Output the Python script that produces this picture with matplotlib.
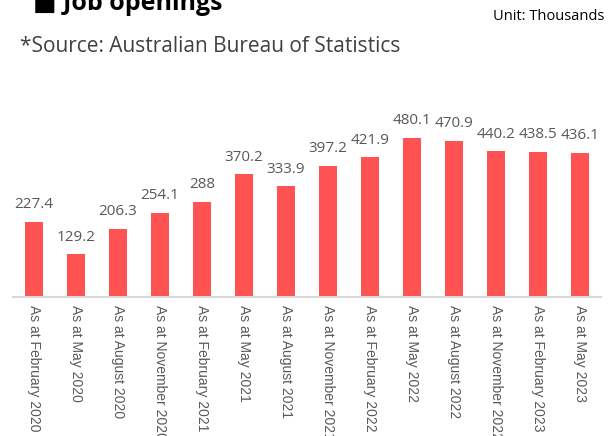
import matplotlib
matplotlib.use("Agg")
import matplotlib.pyplot as plt
import numpy as np

periods = ["February 2020", "May 2020", "August 2020", "November 2020",
           "February 2021", "May 2021", "August 2021", "November 2021",
           "February 2022", "May 2022", "August 2022", "November 2022",
           "February 2023", "May 2023"]
openings = [227.4, 129.2, 206.3, 254.1, 288, 370.2, 333.9, 397.2,
            421.9, 480.1, 470.9, 440.2, 438.5, 436.1]
value_labels = ["227.4", "129.2", "206.3", "254.1", "288", "370.2", "333.9",
                "397.2", "421.9", "480.1", "470.9", "440.2", "438.5", "436.1"]

bar_color = '#ff5252'
text_grey = '#595959'

fig = plt.figure(figsize=(6.11, 4.36), dpi=100)
ax = fig.add_axes([13 / 611, 139 / 436, 588 / 611, 237 / 436])

x = np.arange(len(openings))
ax.bar(x, openings, width=0.41, color=bar_color, zorder=2)

for xi, v, lab in zip(x, openings, value_labels):
    ax.annotate(lab, (xi, v), xytext=(0, 7), textcoords='offset points',
                ha='center', va='bottom', fontsize=11, color=text_grey,
                family='Open Sans')

ax.set_xlim(-0.5, len(openings) - 0.5)
ax.set_ylim(0, 716)
ax.set_xticks(x)
ax.set_xticklabels(["As at " + p for p in periods], rotation=270,
                   fontsize=10, color=text_grey, family='Liberation Sans',
                   va='top', ha='center')
ax.tick_params(axis='x', length=0, pad=6)
ax.set_yticks([])
for side in ['top', 'right', 'left']:
    ax.spines[side].set_visible(False)
ax.spines['bottom'].set_color('#d9d9d9')
ax.spines['bottom'].set_linewidth(1.5)

fig.text(33 / 611, 1 - 4 / 436, "\u25a0 Job openings", fontsize=18,
         fontweight='bold', family=['Open Sans', 'DejaVu Sans'],
         color='black', va='center')
fig.text(20 / 611, 1 - 46 / 436, "*Source: Australian Bureau of Statistics",
         fontsize=15, family='Open Sans', color='#404040', va='center')
fig.text(604 / 611, 1 - 17 / 436, "Unit: Thousands", fontsize=10.5,
         family='Open Sans', color='black', ha='right', va='center')

fig.savefig('out.png', dpi=100, facecolor='white')
